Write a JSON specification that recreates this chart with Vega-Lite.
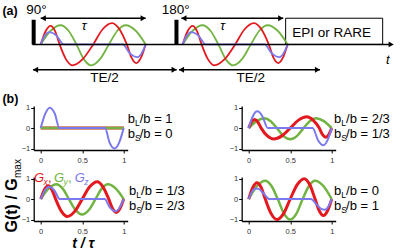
{
 "$schema": "https://vega.github.io/schema/vega-lite/v6.json",
 "padding": {"left": 1.7, "top": 1.5, "right": 0, "bottom": 0},
 "background": "white",
 "config": {
  "font": "Liberation Sans",
  "view": {"stroke": null},
  "text": {"baseline": "alphabetic", "color": "#000"},
  "axis": {"domainColor": "#000", "domainWidth": 1.3, "tickColor": "#000", "tickWidth": 1, "tickSize": 3, "labelFont": "Liberation Sans", "labelFontSize": 7.5, "labelColor": "#333", "grid": false},
  "axisX": {"labelPadding": 4},
  "axisY": {"labelPadding": 1}
 },
 "datasets": {
  "a": [
   {"b":1,"s":"y","t":0,"g":0},{"b":1,"s":"y","t":0.095,"g":0.62},{"b":1,"s":"y","t":0.19,"g":0.87},{"b":1,"s":"y","t":0.265,"g":0.62},{"b":1,"s":"y","t":0.34,"g":0},{"b":1,"s":"y","t":0.41,"g":-0.67},{"b":1,"s":"y","t":0.48,"g":-0.95},{"b":1,"s":"y","t":0.565,"g":-0.67},{"b":1,"s":"y","t":0.65,"g":0},{"b":1,"s":"y","t":0.73,"g":0.62},{"b":1,"s":"y","t":0.81,"g":0.87},{"b":1,"s":"y","t":0.905,"g":0.62},{"b":1,"s":"y","t":1,"g":0},
   {"b":1,"s":"x","t":0,"g":0},{"b":1,"s":"x","t":0.047,"g":0.6},{"b":1,"s":"x","t":0.095,"g":0.84},{"b":1,"s":"x","t":0.137,"g":0.6},{"b":1,"s":"x","t":0.18,"g":0},{"b":1,"s":"x","t":0.24,"g":-0.67},{"b":1,"s":"x","t":0.3,"g":-0.95},{"b":1,"s":"x","t":0.4,"g":-0.67},{"b":1,"s":"x","t":0.5,"g":0},{"b":1,"s":"x","t":0.59,"g":0.69},{"b":1,"s":"x","t":0.68,"g":0.97},{"b":1,"s":"x","t":0.75,"g":0.69},{"b":1,"s":"x","t":0.82,"g":0},{"b":1,"s":"x","t":0.865,"g":-0.6},{"b":1,"s":"x","t":0.91,"g":-0.85},{"b":1,"s":"x","t":0.955,"g":-0.6},{"b":1,"s":"x","t":1,"g":0},
   {"b":1,"s":"z","t":0,"g":0},{"b":1,"s":"z","t":0.04,"g":0.4},{"b":1,"s":"z","t":0.08,"g":0.56},{"b":1,"s":"z","t":0.15,"g":0.4},{"b":1,"s":"z","t":0.22,"g":0},{"b":1,"s":"z","t":0.78,"g":0},{"b":1,"s":"z","t":0.85,"g":-0.41},{"b":1,"s":"z","t":0.92,"g":-0.58},{"b":1,"s":"z","t":0.96,"g":-0.41},{"b":1,"s":"z","t":1,"g":0},
   {"b":2,"s":"y","t":1.352,"g":0},{"b":2,"s":"y","t":1.447,"g":0.62},{"b":2,"s":"y","t":1.542,"g":0.87},{"b":2,"s":"y","t":1.617,"g":0.62},{"b":2,"s":"y","t":1.692,"g":0},{"b":2,"s":"y","t":1.762,"g":-0.67},{"b":2,"s":"y","t":1.832,"g":-0.95},{"b":2,"s":"y","t":1.917,"g":-0.67},{"b":2,"s":"y","t":2.002,"g":0},{"b":2,"s":"y","t":2.082,"g":0.62},{"b":2,"s":"y","t":2.162,"g":0.87},{"b":2,"s":"y","t":2.257,"g":0.62},{"b":2,"s":"y","t":2.352,"g":0},
   {"b":2,"s":"x","t":1.352,"g":0},{"b":2,"s":"x","t":1.399,"g":0.6},{"b":2,"s":"x","t":1.447,"g":0.84},{"b":2,"s":"x","t":1.489,"g":0.6},{"b":2,"s":"x","t":1.532,"g":0},{"b":2,"s":"x","t":1.592,"g":-0.67},{"b":2,"s":"x","t":1.652,"g":-0.95},{"b":2,"s":"x","t":1.752,"g":-0.67},{"b":2,"s":"x","t":1.852,"g":0},{"b":2,"s":"x","t":1.942,"g":0.69},{"b":2,"s":"x","t":2.032,"g":0.97},{"b":2,"s":"x","t":2.102,"g":0.69},{"b":2,"s":"x","t":2.172,"g":0},{"b":2,"s":"x","t":2.217,"g":-0.6},{"b":2,"s":"x","t":2.262,"g":-0.85},{"b":2,"s":"x","t":2.307,"g":-0.6},{"b":2,"s":"x","t":2.352,"g":0},
   {"b":2,"s":"z","t":1.352,"g":0},{"b":2,"s":"z","t":1.392,"g":0.4},{"b":2,"s":"z","t":1.432,"g":0.56},{"b":2,"s":"z","t":1.502,"g":0.4},{"b":2,"s":"z","t":1.572,"g":0},{"b":2,"s":"z","t":2.132,"g":0},{"b":2,"s":"z","t":2.202,"g":-0.41},{"b":2,"s":"z","t":2.272,"g":-0.58},{"b":2,"s":"z","t":2.312,"g":-0.41},{"b":2,"s":"z","t":2.352,"g":0}
  ],
  "w": [
   {"p":1,"s":"x","t":0,"g":0},{"p":1,"s":"x","t":1,"g":0},
   {"p":1,"s":"y","t":0,"g":0},{"p":1,"s":"y","t":1,"g":0},
   {"p":1,"s":"z","t":0,"g":0},{"p":1,"s":"z","t":0.055,"g":0.71},{"p":1,"s":"z","t":0.11,"g":1},{"p":1,"s":"z","t":0.17,"g":0.71},{"p":1,"s":"z","t":0.225,"g":0},{"p":1,"s":"z","t":0.775,"g":0},{"p":1,"s":"z","t":0.83,"g":-0.71},{"p":1,"s":"z","t":0.89,"g":-1},{"p":1,"s":"z","t":0.945,"g":-0.71},{"p":1,"s":"z","t":1,"g":0},

   {"p":2,"s":"y","t":0,"g":0},{"p":2,"s":"y","t":0.095,"g":0.34},{"p":2,"s":"y","t":0.19,"g":0.48},{"p":2,"s":"y","t":0.265,"g":0.34},{"p":2,"s":"y","t":0.34,"g":0},{"p":2,"s":"y","t":0.42,"g":-0.39},{"p":2,"s":"y","t":0.5,"g":-0.55},{"p":2,"s":"y","t":0.58,"g":-0.39},{"p":2,"s":"y","t":0.66,"g":0},{"p":2,"s":"y","t":0.735,"g":0.34},{"p":2,"s":"y","t":0.81,"g":0.48},{"p":2,"s":"y","t":0.905,"g":0.34},{"p":2,"s":"y","t":1,"g":0},
   {"p":2,"s":"x","t":0,"g":0},{"p":2,"s":"x","t":0.035,"g":0.3},{"p":2,"s":"x","t":0.07,"g":0.42},{"p":2,"s":"x","t":0.11,"g":0.3},{"p":2,"s":"x","t":0.15,"g":0},{"p":2,"s":"x","t":0.225,"g":-0.38},{"p":2,"s":"x","t":0.3,"g":-0.53},{"p":2,"s":"x","t":0.4,"g":-0.38},{"p":2,"s":"x","t":0.5,"g":0},{"p":2,"s":"x","t":0.6,"g":0.39},{"p":2,"s":"x","t":0.7,"g":0.55},{"p":2,"s":"x","t":0.775,"g":0.39},{"p":2,"s":"x","t":0.85,"g":0},{"p":2,"s":"x","t":0.89,"g":-0.32},{"p":2,"s":"x","t":0.93,"g":-0.45},{"p":2,"s":"x","t":0.965,"g":-0.32},{"p":2,"s":"x","t":1,"g":0},
   {"p":2,"s":"z","t":0,"g":0},{"p":2,"s":"z","t":0.05,"g":0.58},{"p":2,"s":"z","t":0.105,"g":0.82},{"p":2,"s":"z","t":0.165,"g":0.58},{"p":2,"s":"z","t":0.23,"g":0},{"p":2,"s":"z","t":0.77,"g":0},{"p":2,"s":"z","t":0.835,"g":-0.59},{"p":2,"s":"z","t":0.9,"g":-0.84},{"p":2,"s":"z","t":0.95,"g":-0.59},{"p":2,"s":"z","t":1,"g":0},

   {"p":3,"s":"y","t":0,"g":0},{"p":3,"s":"y","t":0.095,"g":0.51},{"p":3,"s":"y","t":0.19,"g":0.72},{"p":3,"s":"y","t":0.265,"g":0.51},{"p":3,"s":"y","t":0.34,"g":0},{"p":3,"s":"y","t":0.42,"g":-0.53},{"p":3,"s":"y","t":0.5,"g":-0.75},{"p":3,"s":"y","t":0.58,"g":-0.53},{"p":3,"s":"y","t":0.66,"g":0},{"p":3,"s":"y","t":0.735,"g":0.51},{"p":3,"s":"y","t":0.81,"g":0.72},{"p":3,"s":"y","t":0.905,"g":0.51},{"p":3,"s":"y","t":1,"g":0},
   {"p":3,"s":"x","t":0,"g":0},{"p":3,"s":"x","t":0.045,"g":0.46},{"p":3,"s":"x","t":0.09,"g":0.65},{"p":3,"s":"x","t":0.135,"g":0.46},{"p":3,"s":"x","t":0.18,"g":0},{"p":3,"s":"x","t":0.25,"g":-0.6},{"p":3,"s":"x","t":0.32,"g":-0.85},{"p":3,"s":"x","t":0.41,"g":-0.6},{"p":3,"s":"x","t":0.5,"g":0},{"p":3,"s":"x","t":0.59,"g":0.6},{"p":3,"s":"x","t":0.68,"g":0.85},{"p":3,"s":"x","t":0.75,"g":0.6},{"p":3,"s":"x","t":0.82,"g":0},{"p":3,"s":"x","t":0.865,"g":-0.46},{"p":3,"s":"x","t":0.91,"g":-0.65},{"p":3,"s":"x","t":0.955,"g":-0.46},{"p":3,"s":"x","t":1,"g":0},
   {"p":3,"s":"z","t":0,"g":0},{"p":3,"s":"z","t":0.05,"g":0.42},{"p":3,"s":"z","t":0.1,"g":0.6},{"p":3,"s":"z","t":0.165,"g":0.42},{"p":3,"s":"z","t":0.23,"g":0},{"p":3,"s":"z","t":0.77,"g":0},{"p":3,"s":"z","t":0.835,"g":-0.42},{"p":3,"s":"z","t":0.9,"g":-0.6},{"p":3,"s":"z","t":0.95,"g":-0.42},{"p":3,"s":"z","t":1,"g":0},

   {"p":4,"s":"y","t":0,"g":0},{"p":4,"s":"y","t":0.1,"g":0.64},{"p":4,"s":"y","t":0.2,"g":0.9},{"p":4,"s":"y","t":0.275,"g":0.64},{"p":4,"s":"y","t":0.35,"g":0},{"p":4,"s":"y","t":0.425,"g":-0.71},{"p":4,"s":"y","t":0.5,"g":-1},{"p":4,"s":"y","t":0.575,"g":-0.71},{"p":4,"s":"y","t":0.65,"g":0},{"p":4,"s":"y","t":0.725,"g":0.64},{"p":4,"s":"y","t":0.8,"g":0.9},{"p":4,"s":"y","t":0.9,"g":0.64},{"p":4,"s":"y","t":1,"g":0},
   {"p":4,"s":"x","t":0,"g":0},{"p":4,"s":"x","t":0.05,"g":0.57},{"p":4,"s":"x","t":0.1,"g":0.8},{"p":4,"s":"x","t":0.15,"g":0.57},{"p":4,"s":"x","t":0.2,"g":0},{"p":4,"s":"x","t":0.27,"g":-0.71},{"p":4,"s":"x","t":0.34,"g":-1},{"p":4,"s":"x","t":0.42,"g":-0.71},{"p":4,"s":"x","t":0.5,"g":0},{"p":4,"s":"x","t":0.585,"g":0.71},{"p":4,"s":"x","t":0.67,"g":1},{"p":4,"s":"x","t":0.735,"g":0.71},{"p":4,"s":"x","t":0.8,"g":0},{"p":4,"s":"x","t":0.85,"g":-0.57},{"p":4,"s":"x","t":0.9,"g":-0.8},{"p":4,"s":"x","t":0.95,"g":-0.57},{"p":4,"s":"x","t":1,"g":0},
   {"p":4,"s":"z","t":0,"g":0},{"p":4,"s":"z","t":0.04,"g":0.36},{"p":4,"s":"z","t":0.08,"g":0.52},{"p":4,"s":"z","t":0.12,"g":0.5},{"p":4,"s":"z","t":0.18,"g":0.27},{"p":4,"s":"z","t":0.25,"g":0},{"p":4,"s":"z","t":0.75,"g":0},{"p":4,"s":"z","t":0.82,"g":-0.27},{"p":4,"s":"z","t":0.88,"g":-0.5},{"p":4,"s":"z","t":0.92,"g":-0.52},{"p":4,"s":"z","t":0.96,"g":-0.36},{"p":4,"s":"z","t":1,"g":0}
  ],
  "lab": [
   {"p":1,"sub":"L","rest":"/b = 1","t":1.048,"g":0.24},{"p":1,"sub":"S","rest":"/b = 0","t":1.048,"g":-0.49},
   {"p":2,"sub":"L","rest":"/b = 2/3","t":1.028,"g":0.24},{"p":2,"sub":"S","rest":"/b = 1/3","t":1.028,"g":-0.46},
   {"p":3,"sub":"L","rest":"/b = 1/3","t":1.064,"g":0.21},{"p":3,"sub":"S","rest":"/b = 2/3","t":1.064,"g":-0.52},
   {"p":4,"sub":"L","rest":"/b = 0","t":1.028,"g":0.21},{"p":4,"sub":"S","rest":"/b = 1","t":1.028,"g":-0.52}
  ],
  "leg": [
   {"c":"x","t":-0.081,"g":0.83},{"c":"y","t":0.16,"g":0.83},{"c":"z","t":0.41,"g":0.83}
  ]
 },
 "spacing": 16.5,
 "bounds": "flush",
 "resolve": {"scale": {"x": "independent", "y": "independent"}},
 "vconcat": [
  {
   "width": 367, "height": 88,
   "encoding": {
    "x": {"field": "t", "type": "quantitative", "scale": {"domain": [-0.0667, 3.4286], "nice": false, "zero": false}, "axis": null},
    "y": {"field": "g", "type": "quantitative", "scale": {"domain": [-2.05, 1.95], "nice": false, "zero": false}, "axis": null}
   },
   "layer": [
    {"data": {"values": [{"t": 2.333, "t2": 3.257, "g": 0, "g2": 1.19}]}, "mark": {"type": "rect", "fill": "white", "stroke": "#000", "strokeWidth": 1}, "encoding": {"x2": {"field": "t2"}, "y2": {"field": "g2"}}},
    {"data": {"name": "a"}, "mark": {"type": "line", "interpolate": "monotone", "strokeWidth": 1.8}, "encoding": {"color": {"field": "s", "type": "nominal", "scale": {"domain": ["x","y","z"], "range": ["#e3191f","#72b443","#7b79ee"]}, "legend": null}, "detail": {"field": "b", "type": "nominal"}}},
    {"data": {"values": [{"t": -0.079, "t2": 3.33, "g": 0}, {"t": 0, "t2": 1, "g": 1.19}, {"t": 1.34, "t2": 2.31, "g": 1.19}, {"t": -0.073, "t2": 1.295, "g": -1.155}, {"t": 1.317, "t2": 2.66, "g": -1.155}]}, "mark": {"type": "rule", "strokeWidth": 1.5, "color": "#000"}, "encoding": {"x2": {"field": "t2"}}},
    {"data": {"values": [{"t": -0.067, "g": 0, "g2": 1.12}, {"t": 1.293, "g": 0, "g2": 1.12}]}, "mark": {"type": "rule", "strokeWidth": 4, "color": "#000"}, "encoding": {"y2": {"field": "g2"}}},
    {"data": {"values": [{"t": 0.024, "g": 1.19, "d": "l"}, {"t": 0.976, "g": 1.19, "d": "r"}, {"t": 1.364, "g": 1.19, "d": "l"}, {"t": 2.286, "g": 1.19, "d": "r"}, {"t": -0.049, "g": -1.155, "d": "l"}, {"t": 1.271, "g": -1.155, "d": "r"}, {"t": 1.341, "g": -1.155, "d": "l"}, {"t": 2.636, "g": -1.155, "d": "r"}, {"t": 3.338, "g": 0, "d": "r"}]}, "mark": {"type": "point", "filled": true, "size": 35, "color": "#000", "opacity": 1}, "encoding": {"shape": {"field": "d", "type": "nominal", "scale": {"domain": ["l","r"], "range": ["triangle-left","triangle-right"]}, "legend": null}}},
    {"data": {"values": [{"txt": "90°", "t": -0.04, "g": 1.391}, {"txt": "180°", "t": 1.286, "g": 1.391}, {"txt": "TE/2", "t": 0.607, "g": -1.718}, {"txt": "TE/2", "t": 2.0, "g": -1.718}, {"txt": "EPI or RARE", "t": 2.77, "g": 0.314}]}, "mark": {"type": "text", "align": "center", "fontSize": 13.5}, "encoding": {"text": {"field": "txt"}}},
    {"data": {"values": [{"txt": "τ", "t": 0.414, "g": 0.677}, {"txt": "τ", "t": 1.733, "g": 0.677}, {"txt": "t", "t": 3.305, "g": -0.882}]}, "mark": {"type": "text", "align": "center", "fontSize": 13, "fontStyle": "italic"}, "encoding": {"text": {"field": "txt"}}},
    {"data": {"values": [{"txt": "(a)", "t": -0.365, "g": 1.345}]}, "mark": {"type": "text", "align": "left", "fontSize": 12.5, "fontWeight": "bold"}, "encoding": {"text": {"field": "txt"}}}
   ]
  },
  {
   "columns": 2,
   "spacing": {"row": 27, "column": 114},
   "bounds": "flush",
   "resolve": {"scale": {"x": "independent", "y": "independent"}},
   "concat": [
    {
     "width": 94, "height": 44,
     "encoding": {
      "x": {"field": "t", "type": "quantitative", "scale": {"domain": [-0.0843, 1.048], "nice": false, "zero": false}, "axis": {"values": [0, 0.5, 1], "format": "~g", "title": null}},
      "y": {"field": "g", "type": "quantitative", "scale": {"domain": [-1.07, 1.08], "nice": false, "zero": false}, "axis": {"values": [-1, 0, 1], "format": "~g", "title": null}}
     },
     "layer": [
      {"data": {"name": "w"}, "transform": [{"filter": "datum.p == 1"}], "mark": {"type": "line", "interpolate": "monotone"}, "encoding": {"color": {"field": "s", "type": "nominal", "scale": {"domain": ["x","y","z"], "range": ["#e3191f","#72b443","#7b79ee"]}, "legend": null}, "strokeWidth": {"field": "s", "type": "ordinal", "scale": {"domain": ["x","y","z"], "range": [3, 2, 1.6]}, "legend": null}}},
      {"data": {"name": "lab"}, "transform": [{"filter": "datum.p == 1"}], "mark": {"type": "text", "align": "left", "fontSize": 13}, "encoding": {"text": {"value": "b"}}},
      {"data": {"name": "lab"}, "transform": [{"filter": "datum.p == 1"}], "mark": {"type": "text", "align": "left", "fontSize": 8.5, "dx": 7.2, "dy": 3}, "encoding": {"text": {"field": "sub"}}},
      {"data": {"name": "lab"}, "transform": [{"filter": "datum.p == 1"}], "mark": {"type": "text", "align": "left", "fontSize": 13, "dx": 12}, "encoding": {"text": {"field": "rest"}}},
      {"data": {"values": [{"txt": "(b)", "t": -0.461, "g": 1.25}]}, "mark": {"type": "text", "align": "left", "fontSize": 12.5, "fontWeight": "bold"}, "encoding": {"text": {"field": "txt"}}}
     ]
    },
    {
     "width": 94, "height": 44,
     "encoding": {
      "x": {"field": "t", "type": "quantitative", "scale": {"domain": [-0.0843, 1.048], "nice": false, "zero": false}, "axis": {"values": [0, 0.5, 1], "format": "~g", "title": null}},
      "y": {"field": "g", "type": "quantitative", "scale": {"domain": [-1.07, 1.08], "nice": false, "zero": false}, "axis": {"values": [-1, 0, 1], "format": "~g", "title": null}}
     },
     "layer": [
      {"data": {"name": "w"}, "transform": [{"filter": "datum.p == 2"}], "mark": {"type": "line", "interpolate": "monotone"}, "encoding": {"color": {"field": "s", "type": "nominal", "scale": {"domain": ["x","y","z"], "range": ["#e3191f","#72b443","#7b79ee"]}, "legend": null}, "strokeWidth": {"field": "s", "type": "ordinal", "scale": {"domain": ["x","y","z"], "range": [3, 2, 1.6]}, "legend": null}}},
      {"data": {"name": "lab"}, "transform": [{"filter": "datum.p == 2"}], "mark": {"type": "text", "align": "left", "fontSize": 13}, "encoding": {"text": {"value": "b"}}},
      {"data": {"name": "lab"}, "transform": [{"filter": "datum.p == 2"}], "mark": {"type": "text", "align": "left", "fontSize": 8.5, "dx": 7.2, "dy": 3}, "encoding": {"text": {"field": "sub"}}},
      {"data": {"name": "lab"}, "transform": [{"filter": "datum.p == 2"}], "mark": {"type": "text", "align": "left", "fontSize": 13, "dx": 12}, "encoding": {"text": {"field": "rest"}}}
     ]
    },
    {
     "width": 94, "height": 44,
     "encoding": {
      "x": {"field": "t", "type": "quantitative", "scale": {"domain": [-0.0843, 1.048], "nice": false, "zero": false}, "axis": {"values": [0, 0.5, 1], "format": "~g", "title": null}},
      "y": {"field": "g", "type": "quantitative", "scale": {"domain": [-1.07, 1.08], "nice": false, "zero": false}, "axis": {"values": [-1, 0, 1], "format": "~g", "title": null}}
     },
     "layer": [
      {"data": {"name": "w"}, "transform": [{"filter": "datum.p == 3"}], "mark": {"type": "line", "interpolate": "monotone"}, "encoding": {"color": {"field": "s", "type": "nominal", "scale": {"domain": ["x","y","z"], "range": ["#e3191f","#72b443","#7b79ee"]}, "legend": null}, "strokeWidth": {"field": "s", "type": "ordinal", "scale": {"domain": ["x","y","z"], "range": [3, 2, 1.6]}, "legend": null}}},
      {"data": {"name": "lab"}, "transform": [{"filter": "datum.p == 3"}], "mark": {"type": "text", "align": "left", "fontSize": 13}, "encoding": {"text": {"value": "b"}}},
      {"data": {"name": "lab"}, "transform": [{"filter": "datum.p == 3"}], "mark": {"type": "text", "align": "left", "fontSize": 8.5, "dx": 7.2, "dy": 3}, "encoding": {"text": {"field": "sub"}}},
      {"data": {"name": "lab"}, "transform": [{"filter": "datum.p == 3"}], "mark": {"type": "text", "align": "left", "fontSize": 13, "dx": 12}, "encoding": {"text": {"field": "rest"}}},
      {"data": {"name": "leg"}, "mark": {"type": "text", "align": "left", "fontSize": 13, "fontStyle": "italic"}, "encoding": {"text": {"value": "G"}, "color": {"field": "c", "type": "nominal", "scale": {"domain": ["x","y","z"], "range": ["#e3191f","#72b443","#7b79ee"]}, "legend": null}}},
      {"data": {"name": "leg"}, "mark": {"type": "text", "align": "left", "fontSize": 8.5, "fontStyle": "italic", "dx": 9.5, "dy": 3}, "encoding": {"text": {"field": "c"}, "color": {"field": "c", "type": "nominal", "scale": {"domain": ["x","y","z"], "range": ["#e3191f","#72b443","#7b79ee"]}, "legend": null}}},
      {"data": {"name": "leg"}, "transform": [{"filter": "datum.c != 'z'"}], "mark": {"type": "text", "align": "left", "fontSize": 13, "dx": 14}, "encoding": {"text": {"value": ","}, "color": {"field": "c", "type": "nominal", "scale": {"domain": ["x","y","z"], "range": ["#e3191f","#72b443","#7b79ee"]}, "legend": null}}},
      {"data": {"values": [{"txt": "G(t) / G", "t": -0.281, "g": -1.63}]}, "mark": {"type": "text", "align": "left", "fontSize": 16, "fontWeight": "bold", "angle": 270}, "encoding": {"text": {"field": "txt"}}},
      {"data": {"values": [{"txt": "max", "t": -0.281, "g": -1.63}]}, "mark": {"type": "text", "align": "left", "fontSize": 10, "angle": 270, "dx": 54.5, "dy": 3.5}, "encoding": {"text": {"field": "txt"}}},
      {"data": {"values": [{"txt": "t / τ", "t": 0.512, "g": -2.41}]}, "mark": {"type": "text", "align": "center", "fontSize": 14, "fontWeight": "bold", "fontStyle": "italic"}, "encoding": {"text": {"field": "txt"}}}
     ]
    },
    {
     "width": 94, "height": 44,
     "encoding": {
      "x": {"field": "t", "type": "quantitative", "scale": {"domain": [-0.0843, 1.048], "nice": false, "zero": false}, "axis": {"values": [0, 0.5, 1], "format": "~g", "title": null}},
      "y": {"field": "g", "type": "quantitative", "scale": {"domain": [-1.07, 1.08], "nice": false, "zero": false}, "axis": {"values": [-1, 0, 1], "format": "~g", "title": null}}
     },
     "layer": [
      {"data": {"name": "w"}, "transform": [{"filter": "datum.p == 4"}], "mark": {"type": "line", "interpolate": "monotone"}, "encoding": {"color": {"field": "s", "type": "nominal", "scale": {"domain": ["x","y","z"], "range": ["#e3191f","#72b443","#7b79ee"]}, "legend": null}, "strokeWidth": {"field": "s", "type": "ordinal", "scale": {"domain": ["x","y","z"], "range": [3, 2, 1.6]}, "legend": null}}},
      {"data": {"name": "lab"}, "transform": [{"filter": "datum.p == 4"}], "mark": {"type": "text", "align": "left", "fontSize": 13}, "encoding": {"text": {"value": "b"}}},
      {"data": {"name": "lab"}, "transform": [{"filter": "datum.p == 4"}], "mark": {"type": "text", "align": "left", "fontSize": 8.5, "dx": 7.2, "dy": 3}, "encoding": {"text": {"field": "sub"}}},
      {"data": {"name": "lab"}, "transform": [{"filter": "datum.p == 4"}], "mark": {"type": "text", "align": "left", "fontSize": 13, "dx": 12}, "encoding": {"text": {"field": "rest"}}}
     ]
    }
   ]
  }
 ]
}
